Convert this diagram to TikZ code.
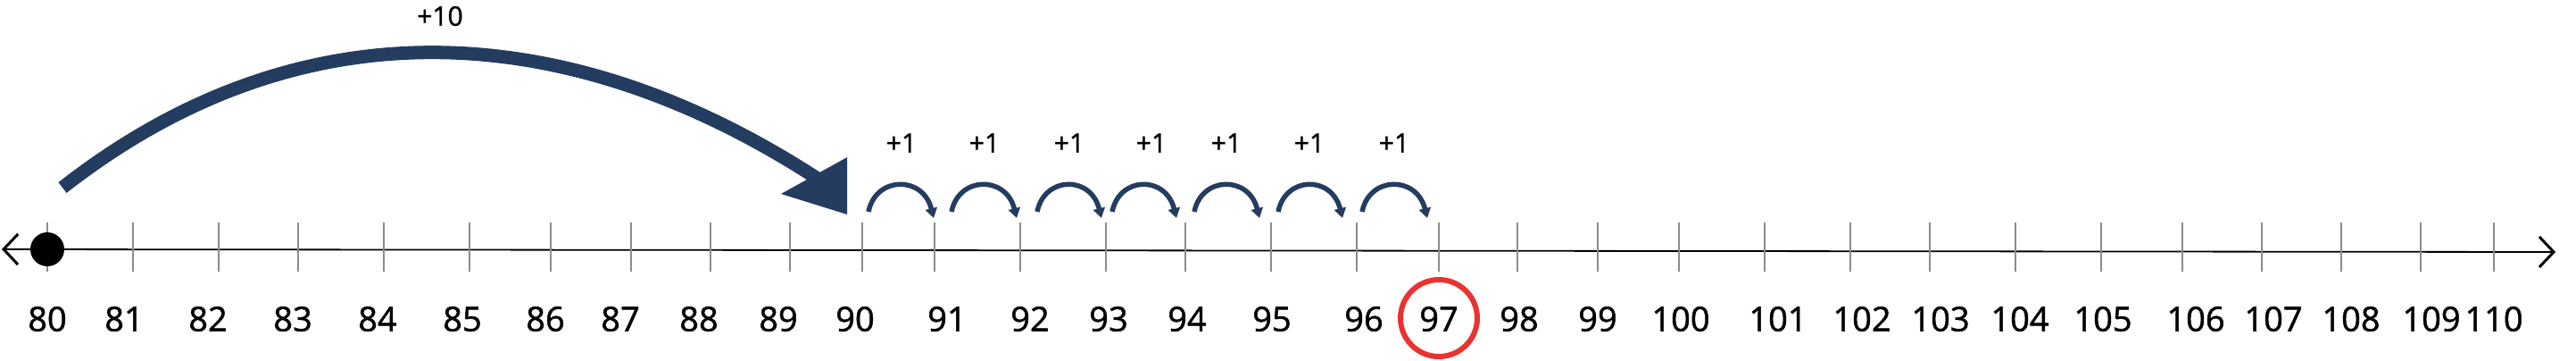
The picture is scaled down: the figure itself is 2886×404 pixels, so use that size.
\documentclass[tikz,border=0pt]{standalone}
\usepackage{fontspec}
\setmainfont{Open Sans}[FakeBold=1.3]
\usetikzlibrary{arrows.meta}
\definecolor{navy}{RGB}{36,60,95}
\definecolor{ringred}{RGB}{234,50,50}
\definecolor{tickgray}{RGB}{140,140,140}
\begin{document}
\begin{tikzpicture}[x=1pt,y=-1pt,
  numlabel/.style={font=\fontsize{38}{40}\selectfont, inner sep=0pt},
  pluslabel/.style={font=\fontsize{30}{32}\selectfont, inner sep=0pt},
  tickline/.style={draw=tickgray, line width=1.2pt},
  axisline/.style={draw=black, line width=1.8pt,
    {Straight Barb[length=16pt,width=34pt,line width=3pt]}-{Straight Barb[length=16pt,width=34pt,line width=3pt]}},
  bigjump/.style={draw=navy, line width=15pt, line cap=butt},
  bighead/.style={fill=navy},
  smalljump/.style={draw=navy, line width=5.5pt, -{Triangle[length=11pt,width=13pt]}},
  ringmark/.style={draw=ringred, line width=6pt, circle, minimum size=86pt, inner sep=0pt},
  startdot/.style={fill=black, circle, minimum size=38pt, inner sep=0pt}
]
\useasboundingbox (0,0) rectangle (2886,404);
% axis
\coordinate (axL) at (2,279);
\coordinate (axR) at (2863,282);
\draw[axisline] (axL) -- (axR);
% ticks
\foreach \v/\x in {80/53,81/149,82/245,83/334,84/430,85/526,86/617,87/707,88/796,89/885,90/966,91/1047,92/1143,93/1239,94/1328,95/1424,96/1520,97/1612,98/1700,99/1790,100/1881,101/1977,102/2073,103/2162,104/2258,105/2354,106/2445,107/2534,108/2623,109/2712,110/2794}{
  \coordinate (t\v) at (\x,279);
  \draw[tickline] (t\v) ++(0,-30) -- ++(0,55);
}
% labels
\foreach \v/\x in {80/53,81/139,82/233,83/328,84/423,85/518,86/611,87/695,88/783,89/872,90/958,91/1061,92/1154,93/1242,94/1330,95/1425,96/1528,97/1612,98/1702,99/1790,100/1883,101/1992,102/2086,103/2174,104/2263,105/2356,106/2460,107/2547,108/2634,109/2724,110/2794}{
  \node[numlabel] (n\v) at (\x,357) {\v};
}
% start dot
\node[startdot] (dot) at (t80) {};
% ring
\node[ringmark] (ring) at (1612,356) {};
% big jump
\coordinate (bs) at (70,210);
\coordinate (be) at (916,200);
\draw[bigjump] (bs) .. controls (344,-4) and (645,24) .. (be);
\coordinate (h1) at (949,176);
\coordinate (h2) at (949,240);
\coordinate (h3) at (875,217);
\fill[bighead] (h1) -- (h2) -- (h3) -- cycle;
\node[pluslabel] (p10) at (493,18) {+10};
% small jumps
\foreach \i/\s/\e/\l in {1/973/1046/1010,2/1066/1139/1103,3/1162/1234/1198,4/1246/1318/1290,5/1338/1411/1374,6/1432/1504/1467,7/1526/1599/1562}{
  \coordinate (s\i) at (\s,237);
  \coordinate (e\i) at (\e,244);
  \draw[smalljump] (s\i) .. controls +(8,-40) and +(-12,-48) .. (e\i);
  \node[pluslabel] (p\i) at (\l,160) {+1};
}
\end{tikzpicture}
\end{document}
